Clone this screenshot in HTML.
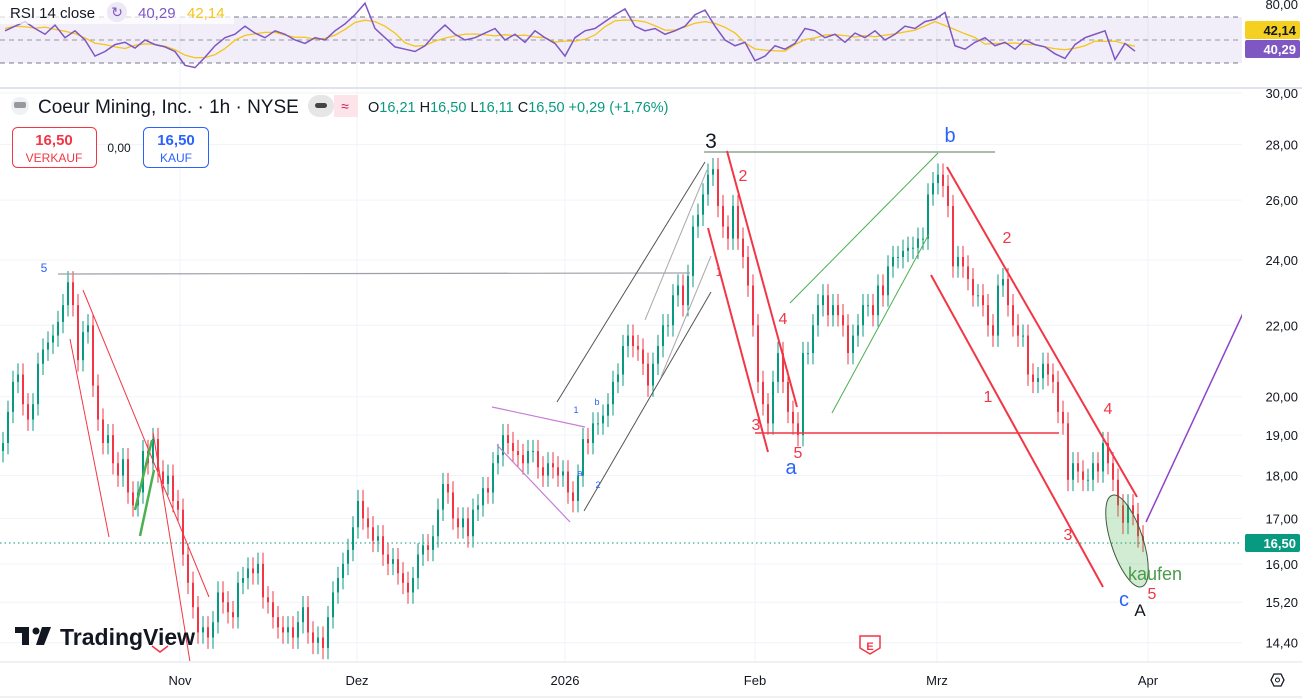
<!DOCTYPE html>
<html><head><meta charset="utf-8">
<style>
html,body{margin:0;padding:0;background:#fff;width:1302px;height:700px;overflow:hidden;font-family:"Liberation Sans",sans-serif;}
svg{display:block}
.ax{font:13px "Liberation Sans",sans-serif;fill:#131722}
</style></head>
<body>
<svg id="chart" width="1302" height="700" xmlns="http://www.w3.org/2000/svg">
<defs>
<clipPath id="cp"><rect x="0" y="89" width="1242" height="572"/></clipPath>
<clipPath id="cr"><rect x="0" y="0" width="1242" height="87"/></clipPath>
</defs>
<g id="grid"></g>
<rect x="0" y="17" width="1242" height="46" fill="rgba(126,87,194,0.1)"/>
<g id="rsiLevels"></g>
<g id="rsiPane" clip-path="url(#cr)"></g>
<line x1="0" y1="88" x2="1302" y2="88" stroke="#e0e3eb" stroke-width="2"/>
<line x1="0" y1="662" x2="1302" y2="662" stroke="#e0e3eb"/>
<line x1="0" y1="697" x2="1302" y2="697" stroke="#e0e3eb"/>
<line x1="0" y1="543" x2="1242" y2="543" stroke="#089981" stroke-dasharray="1.5,3"/>
<g id="candles" clip-path="url(#cp)"></g>
<g id="draw" clip-path="url(#cp)" fill="none">
 <line x1="58" y1="274" x2="690" y2="273" stroke="#9aa0a6" stroke-width="1.2"/>
 <line x1="70" y1="339" x2="109" y2="537" stroke="#f23645"/>
 <line x1="83" y1="290" x2="209" y2="597" stroke="#f23645"/>
 <line x1="153" y1="432" x2="190" y2="662" stroke="#f23645"/>
 <line x1="135" y1="510" x2="152" y2="440" stroke="#4caf50" stroke-width="2.5"/>
 <line x1="140" y1="536" x2="154" y2="470" stroke="#4caf50" stroke-width="2.5"/>
 <line x1="492" y1="407" x2="585" y2="427" stroke="#c77dd8" stroke-width="1.2"/>
 <line x1="497" y1="445" x2="570" y2="522" stroke="#c77dd8" stroke-width="1.2"/>
 <line x1="557" y1="402" x2="705" y2="162" stroke="#555"/>
 <line x1="584" y1="511" x2="711" y2="292" stroke="#555"/>
 <line x1="645" y1="320" x2="707" y2="170" stroke="#aaa"/>
 <line x1="661" y1="377" x2="711" y2="256" stroke="#aaa"/>
 <line x1="704" y1="152" x2="995" y2="152" stroke="#5a7a5a"/>
 <line x1="708" y1="228" x2="768" y2="452" stroke="#f23645" stroke-width="2"/>
 <line x1="727" y1="151" x2="797" y2="407" stroke="#f23645" stroke-width="2"/>
 <line x1="755" y1="433" x2="1059" y2="433" stroke="#f23645" stroke-width="1.5"/>
 <line x1="790" y1="303" x2="938" y2="153" stroke="#4caf50"/>
 <line x1="832" y1="413" x2="929" y2="234" stroke="#4caf50"/>
 <line x1="947" y1="167" x2="1137" y2="497" stroke="#f23645" stroke-width="2"/>
 <line x1="931" y1="275" x2="1103" y2="587" stroke="#f23645" stroke-width="2"/>
 <ellipse cx="1127" cy="541" rx="16" ry="48" transform="rotate(-18 1127 541)" fill="rgba(76,175,80,0.25)" stroke="#3d5c3d"/>
 <line x1="1146" y1="522" x2="1245" y2="309" stroke="#8e44c8" stroke-width="1.5"/>
</g>
<g font-family="Liberation Sans, sans-serif">
 <text x="44" y="272" fill="#2962ff" font-size="12" text-anchor="middle">5</text>
 <text x="711" y="148" fill="#131722" font-size="21" text-anchor="middle">3</text>
 <text x="743" y="181" fill="#f23645" font-size="16" text-anchor="middle">2</text>
 <text x="719" y="276" fill="#f23645" font-size="12" text-anchor="middle">1</text>
 <text x="783" y="324" fill="#f23645" font-size="16" text-anchor="middle">4</text>
 <text x="756" y="430" fill="#f23645" font-size="16" text-anchor="middle">3</text>
 <text x="798" y="458" fill="#f23645" font-size="16" text-anchor="middle">5</text>
 <text x="791" y="474" fill="#2962ff" font-size="20" text-anchor="middle">a</text>
 <text x="950" y="142" fill="#2962ff" font-size="20" text-anchor="middle">b</text>
 <text x="1007" y="243" fill="#f23645" font-size="16" text-anchor="middle">2</text>
 <text x="988" y="402" fill="#f23645" font-size="16" text-anchor="middle">1</text>
 <text x="1108" y="414" fill="#f23645" font-size="16" text-anchor="middle">4</text>
 <text x="1068" y="540" fill="#f23645" font-size="16" text-anchor="middle">3</text>
 <text x="1124" y="606" fill="#2962ff" font-size="20" text-anchor="middle">c</text>
 <text x="1152" y="599" fill="#f23645" font-size="16" text-anchor="middle">5</text>
 <text x="1140" y="616" fill="#131722" font-size="17" text-anchor="middle">A</text>
 <text x="1155" y="580" fill="#4a9a4a" font-size="18" text-anchor="middle">kaufen</text>
 <text x="576" y="413" fill="#2962ff" font-size="9" text-anchor="middle">1</text>
 <text x="597" y="405" fill="#2962ff" font-size="9" text-anchor="middle">b</text>
 <text x="580" y="476" fill="#2962ff" font-size="9" text-anchor="middle">a</text>
 <text x="598" y="488" fill="#2962ff" font-size="9" text-anchor="middle">2</text>
</g>
<g id="axis"></g>
<g id="taxis"></g>
<g>
 <rect x="0" y="1" width="234" height="23" fill="rgba(255,255,255,0.7)"/>
 <text x="10" y="18" font-size="15" fill="#131722">RSI 14 close</text>
 <circle cx="117" cy="12" r="10" fill="#ede7f6"/>
 <text x="117" y="17" font-size="14" fill="#7e57c2" text-anchor="middle">↻</text>
 <text x="138" y="18" font-size="15" fill="#7e57c2">40,29</text>
 <text x="187" y="18" font-size="15" fill="#f5c518">42,14</text>
 <circle cx="20" cy="106" r="9" fill="#eef1f6"/>
 <rect x="14" y="102" width="12" height="6" rx="2" fill="#999"/>
 <text x="38" y="113" font-size="19" fill="#131722">Coeur Mining, Inc. · 1h · NYSE</text>
 <rect x="308" y="95" width="26" height="22" rx="11" fill="#e6e6e6"/>
 <rect x="334" y="95" width="24" height="22" rx="0" fill="#fde4ea"/>
 <rect x="315" y="103" width="12" height="5" rx="2.5" fill="#444"/>
 <text x="345" y="111" font-size="14" fill="#c2185b" text-anchor="middle">≈</text>
 <text x="368" y="112" font-size="14.5" fill="#089981"><tspan fill="#131722">O</tspan>16,21 <tspan fill="#131722">H</tspan>16,50 <tspan fill="#131722">L</tspan>16,11 <tspan fill="#131722">C</tspan>16,50 +0,29 (+1,76%)</text>
 <g>
  <rect x="12.5" y="127.5" width="84" height="40" rx="5" fill="#fff" stroke="#f23645"/>
  <text x="54" y="145" font-size="15" font-weight="bold" fill="#f23645" text-anchor="middle">16,50</text>
  <text x="54" y="162" font-size="12" fill="#f23645" text-anchor="middle">VERKAUF</text>
 </g>
 <text x="119" y="152" font-size="12" fill="#131722" text-anchor="middle">0,00</text>
 <g>
  <rect x="143.5" y="127.5" width="65" height="40" rx="5" fill="#fff" stroke="#2962ff"/>
  <text x="176" y="145" font-size="15" font-weight="bold" fill="#2962ff" text-anchor="middle">16,50</text>
  <text x="176" y="162" font-size="12" fill="#2962ff" text-anchor="middle">KAUF</text>
 </g>
</g>
<g>
 <rect x="15" y="627" width="14" height="6" fill="#131722"/>
 <rect x="22" y="627" width="7" height="18" fill="#131722"/>
 <circle cx="36" cy="631" r="3.5" fill="#131722"/>
 <polygon points="42,627 51,627 44,645 36,645" fill="#131722"/>
 <text x="60" y="645" font-size="23" font-weight="bold" fill="#131722">TradingView</text>
</g>
<g>
 <path d="M860,636 h20 v12 l-10,6 l-10,-6 z" fill="#fff" stroke="#f23645" stroke-width="1.5"/>
 <text x="870" y="650" font-size="11" fill="#f23645" text-anchor="middle" font-weight="bold">E</text>
</g>
<path d="M152,646 l8,6 l8,-6" fill="none" stroke="#f23645" stroke-width="1.5"/>
<g>
 <polygon points="1271,680 1274,674 1281,674 1284,680 1281,686 1274,686" fill="none" stroke="#131722" stroke-width="1.3"/>
 <circle cx="1277.5" cy="680" r="2" fill="none" stroke="#131722"/>
</g>
</svg>
<script>
const closes=[18.8,19.6,20.4,20.6,19.8,19.4,19.8,20.9,21.3,21.5,21.7,22.1,22.6,23.3,22.6,21.0,21.8,22.0,20.3,19.4,
18.8,19.0,18.3,18.0,18.4,17.6,17.3,17.6,18.6,18.3,18.9,18.1,17.8,18.0,17.4,17.2,16.2,15.6,15.1,14.6,
14.7,14.5,14.8,15.4,15.2,15.0,14.9,15.6,15.7,15.9,15.8,16.0,15.3,15.2,14.9,14.7,14.6,14.7,14.5,14.8,
15.1,14.6,14.4,14.5,14.3,14.9,15.4,15.7,16.0,16.3,16.8,17.4,17.0,16.8,16.5,16.6,16.2,16.0,16.1,15.8,
15.6,15.4,15.7,16.2,16.4,16.3,16.6,17.2,17.8,17.6,17.0,16.8,17.0,16.6,17.2,17.3,17.7,17.6,18.3,18.5,
19.0,18.8,18.6,18.5,18.3,18.6,18.6,18.2,18.0,18.3,18.2,18.0,18.1,17.6,17.4,18.0,18.9,18.8,19.3,19.3,
19.5,19.8,20.4,20.6,21.4,21.7,21.4,21.3,20.9,20.3,20.9,21.4,22.0,22.0,22.9,23.2,22.6,23.5,25.1,25.5,
26.2,26.9,27.1,25.8,25.1,24.7,25.8,24.7,24.1,23.2,22.0,20.4,19.8,19.3,20.4,21.2,20.4,19.6,19.3,19.0,
21.2,21.2,22.0,22.6,22.9,22.3,22.6,22.3,22.0,21.2,21.7,22.0,22.6,22.6,22.3,23.2,22.9,23.8,24.1,24.1,
24.3,24.4,24.4,24.7,24.7,26.2,26.6,26.9,26.5,25.8,23.8,24.1,23.8,23.4,22.9,22.9,22.6,22.0,21.7,23.2,
23.4,22.6,22.0,21.7,21.7,20.6,20.4,20.5,20.9,20.6,20.4,19.6,19.3,17.9,18.3,18.1,17.9,17.9,18.3,18.1,
18.8,18.3,17.9,17.3,16.9,17.3,17.1,16.6,16.5];
const firstOpen=18.6;
const rsiValues=[58,62,66,60,55,63,52,58,50,36,
40,46,48,43,50,46,44,40,28,26,
35,45,52,55,62,56,52,58,55,50,
47,52,50,58,64,72,82,60,52,44,
42,40,45,55,63,55,50,52,56,60,
50,55,48,58,52,47,36,52,58,60,
66,72,77,62,58,60,55,58,62,72,
76,62,50,45,48,32,36,45,42,47,
60,58,52,55,48,56,52,58,50,55,
62,60,66,68,74,45,42,48,52,45,
48,42,50,46,44,38,34,46,52,55,
58,33,47,40.29];
const priceTicks=[30,28,26,24,22,20,19,18,17,16,15.2,14.4];
const priceTickLabels=["30,00","28,00","26,00","24,00","22,00","20,00","19,00","18,00","17,00","16,00","15,20","14,40"];
const timeLabels=["Nov","Dez","2026","Feb","Mrz","Apr"];
const timeIdx=[35.4,70.8,112.4,150.4,186.8,229];
const rsiLevels=[70,50,30];

const NS="http://www.w3.org/2000/svg";
function el(t,a,p){const e=document.createElementNS(NS,t);for(const k in a)e.setAttribute(k,a[k]);p.appendChild(e);return e;}
const yP=p=>93+749*Math.log(30/p);
const xI=i=>3+i*5;
const yR=v=>40-(v-50)*23/20;
const xR=i=>5+i*10;

const grid=document.getElementById('grid');
priceTicks.forEach(p=>{const l=el('line',{x1:0,x2:1242,y1:yP(p),y2:yP(p),stroke:'#f0f3fa'},grid);

});
timeIdx.forEach(i=>{const l=el('line',{x1:xI(i),x2:xI(i),y1:0,y2:662,stroke:'#f0f3fa'},grid);

});

const rl=document.getElementById('rsiLevels');
rsiLevels.forEach(v=>{const l=el('line',{x1:0,x2:1242,y1:yR(v),y2:yR(v),stroke:v==50?'#9598a1':'#787b86','stroke-dasharray':'5,4','stroke-width':1},rl);

});

const rp=document.getElementById('rsiPane');
const rsiPts=rsiValues.map((v,i)=>xR(i)+','+yR(v)).join(' ');
const ma=rsiValues.map((v,i)=>{let s=0,n=0;for(let k=Math.max(0,i-3);k<=Math.min(rsiValues.length-1,i+1);k++){s+=rsiValues[k];n++;}return s/n;});
const maL=el('polyline',{points:ma.map((v,i)=>xR(i)+','+yR(v)).join(' '),fill:'none',stroke:'#f5c518','stroke-width':1.3},rp);


const rL=el('polyline',{points:rsiPts,fill:'none',stroke:'#7e57c2','stroke-width':1.5},rp);



const cg=document.getElementById('candles');
closes.forEach((c,i)=>{const o=i?closes[i-1]:firstOpen;const up=c>=o;const col=up?'#089981':'#f23645';
 const hi=Math.max(o,c)*1.015, lo=Math.min(o,c)*0.985;const x=xI(i);
 const w=el('line',{x1:x,x2:x,y1:yP(hi),y2:yP(lo),stroke:col,'stroke-width':1},cg);
 
 
 const t=Math.min(yP(o),yP(c));const h=Math.max(1,Math.abs(yP(o)-yP(c)));
 const b=el('rect',{x:x-1,y:t,width:2,height:h,fill:col},cg);
 
 });

const ax=document.getElementById('axis');
priceTicks.forEach((p,i)=>{const t=el('text',{x:1298,y:yP(p)+5,'text-anchor':'end',class:'ax'},ax);t.textContent=priceTickLabels[i];

});
const t80=el('text',{x:1298,y:9,'text-anchor':'end',class:'ax'},ax);t80.textContent='80,00';


function badge(y,bg,fg,txt,name){const r=el('rect',{x:1245,y:y-9,width:55,height:18,fill:bg,rx:2},ax);
 
 
 const t=el('text',{x:1296,y:y+5,'text-anchor':'end',fill:fg,'font-size':13,'font-weight':'bold','font-family':'Liberation Sans, sans-serif'},ax);t.textContent=txt;}
badge(30,'#f5d020','#131722','42,14','rsi-ma-badge');
badge(49,'#7e57c2','#fff','40,29','rsi-badge');
badge(543,'#089981','#fff','16,50','last-price-badge');

const ta=document.getElementById('taxis');
timeLabels.forEach((s,i)=>{const t=el('text',{x:xI(timeIdx[i]),y:685,'text-anchor':'middle',class:'ax','font-weight':s==='2026'?'bold':'normal'},ta);t.textContent=s;

});
</script>
</body></html>
